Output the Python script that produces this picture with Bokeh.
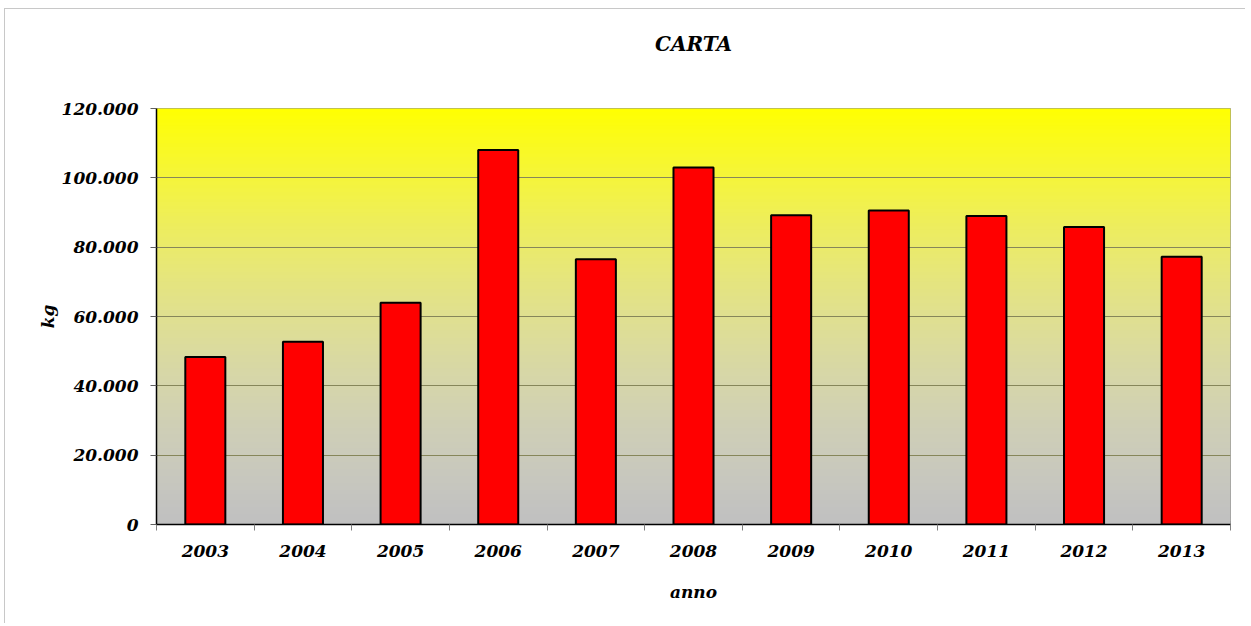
from bokeh.plotting import figure
from bokeh.models import Range1d, FixedTicker, Title
from bokeh.embed import file_html
from bokeh.resources import INLINE

years = ["2003", "2004", "2005", "2006", "2007", "2008", "2009", "2010", "2011", "2012", "2013"]
kg = [48300, 52700, 64000, 108000, 76500, 103000, 89200, 90600, 89000, 85800, 77200]
y_ticks = [0, 20000, 40000, 60000, 80000, 100000, 120000]
y_labels = ["0", "20.000", "40.000", "60.000", "80.000", "100.000", "120.000"]

FONT = "DejaVu Serif"

p = figure(width=1241, height=615, output_backend="svg", toolbar_location=None,
           x_range=Range1d(0, len(years)), y_range=Range1d(0, 120000),
           min_border_left=151, min_border_right=16, min_border_top=99, min_border_bottom=100)
p.title = None
p.styles = {"border-left": "1px solid #c8c8c8", "border-top": "1px solid #c8c8c8",
            "margin-left": "4px", "margin-top": "8px"}

# gradient background (yellow top -> grey bottom)
n = 120
step = 120000 / n
bottoms = [i * step for i in range(n)]
tops = [min((i + 2) * step, 120000) for i in range(n)]
cols = []
for i in range(n):
    t = (i + 0.5) / n
    r = 192 + 63 * t
    g = 192 + 63 * t
    b = 192 * (1 - t ** 2)
    cols.append("#%02x%02x%02x" % (int(round(r)), int(round(g)), int(round(b))))
p.quad(left=0, right=len(years), bottom=bottoms, top=tops,
       fill_color=cols, line_color=None, level="image")

centers = [i + 0.5 for i in range(len(years))]
p.vbar(x=centers, top=kg, width=0.41, fill_color="#ff0000", line_color="black", line_width=2)

# spacer + title
spacer = Title(text=" ", text_font_size="1px", standoff=50)
p.add_layout(spacer, "above")
t = Title(text="CARTA", align="center", text_font=FONT, text_font_style="bold italic",
          text_font_size="20px", text_color="black", standoff=0)
p.add_layout(t, "above")

# grid
p.xgrid.grid_line_color = None
p.ygrid.grid_line_color = "#86865a"
p.ygrid.grid_line_width = 1
p.ygrid.ticker = FixedTicker(ticks=y_ticks)

p.outline_line_color = "#909090"
p.outline_line_width = 1

# x axis
xa = p.xaxis[0]
xa.ticker = FixedTicker(ticks=centers, minor_ticks=list(range(len(years) + 1)))
xa.major_label_overrides = {c: y for c, y in zip(centers, years)}
xa.major_tick_out = 0
xa.major_tick_in = 0
xa.minor_tick_out = 6
xa.minor_tick_in = 0
xa.minor_tick_line_color = "#808080"
xa.axis_line_color = "black"
xa.axis_line_width = 1.5
xa.major_label_standoff = 14
xa.major_label_text_font = FONT
xa.major_label_text_font_style = "bold italic"
xa.major_label_text_font_size = "17px"
xa.major_label_text_color = "black"
xa.axis_label = "anno"
xa.axis_label_text_font = FONT
xa.axis_label_text_font_style = "bold italic"
xa.axis_label_text_font_size = "17px"
xa.axis_label_text_color = "black"
xa.axis_label_standoff = 22

# y axis
ya = p.yaxis[0]
ya.ticker = FixedTicker(ticks=y_ticks)
ya.major_label_overrides = {v: l for v, l in zip(y_ticks, y_labels)}
ya.major_tick_out = 6
ya.major_tick_in = 0
ya.minor_tick_line_color = None
ya.major_tick_line_color = "#606060"
ya.axis_line_color = "black"
ya.axis_line_width = 1.5
ya.major_label_standoff = 12
ya.major_label_text_font = FONT
ya.major_label_text_font_style = "bold italic"
ya.major_label_text_font_size = "17px"
ya.major_label_text_color = "black"
ya.axis_label = "kg"
ya.axis_label_text_font = FONT
ya.axis_label_text_font_style = "bold italic"
ya.axis_label_text_font_size = "17px"
ya.axis_label_text_color = "black"
ya.axis_label_standoff = 1

open("out.html", "w").write(file_html(p, INLINE))
